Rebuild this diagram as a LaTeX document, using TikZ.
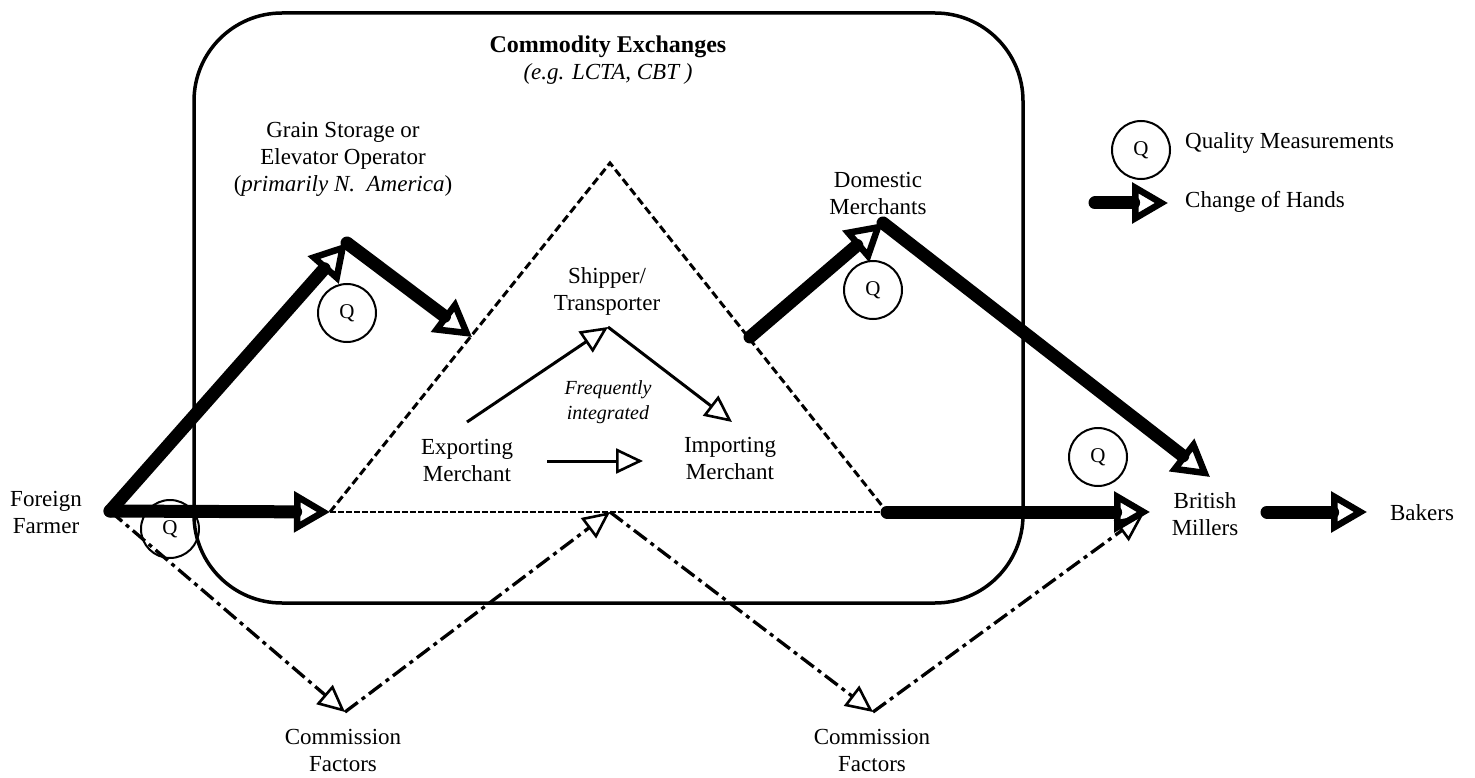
\documentclass[tikz,border=0pt]{standalone}
\usepackage{fontspec}
\setmainfont{Liberation Serif}
\usetikzlibrary{arrows.meta}
\tikzset{
  txt/.style={font=\fontsize{23}{27}\selectfont, align=center, inner sep=0pt},
  qual/.style={circle, draw, line width=2pt, minimum size=58pt, inner sep=0pt, font=\fontsize{21}{24}\selectfont},
  hand/.style={line width=13pt, line cap=round, line join=round, -{Triangle[open,length=36pt,width=40pt,line width=6.5pt]}},
  smallarr/.style={line width=3pt, -{Triangle[open,length=27pt,width=25pt,line width=2.6pt]}},
  commarr/.style={line width=3.3pt, dash pattern=on 16pt off 5pt on 4pt off 5pt, -{Triangle[open,length=27pt,width=25pt,line width=2.6pt]}},
  tri/.style={line width=3pt, dash pattern=on 8pt off 4pt},
  base/.style={line width=2.6pt, dash pattern=on 6pt off 2pt},
  exch/.style={line width=3.5pt, rounded corners=88pt},
}
\begin{document}
\begin{tikzpicture}[x=1pt,y=-1pt]
\useasboundingbox (0,0) rectangle (1475,778);
% exchange box
\draw[exch] (194,13) rectangle (1023,603);
\node[txt, font=\fontsize{24}{28}\selectfont\bfseries] (title) at (608,47) {Commodity Exchanges};
\node[txt, font=\fontsize{23}{27}\selectfont\itshape] (sub) at (608,74) {(e.g. LCTA, CBT )};

% key coordinates
\coordinate (farm) at (110,511);
\coordinate (gapex) at (347,243);
\coordinate (tl) at (330,512);
\coordinate (gtip) at (472,337);
\coordinate (apex) at (610,163);
\coordinate (tr) at (887,512);
\coordinate (dstart) at (750,337);
\coordinate (dapex) at (883,223);
\coordinate (mtip) at (1150,512);
\coordinate (mtip2) at (1210,477);
\coordinate (bm) at (610,512);
\coordinate (c1) at (345,712);
\coordinate (c2) at (873,712);
\coordinate (cm) at (1143,515);
\coordinate (bstart) at (1267,512);
\coordinate (btip) at (1367,512);
\coordinate (lstart) at (1095,203);
\coordinate (ltip) at (1168,203);
\coordinate (es) at (467,422);
\coordinate (sh) at (608,327);
\coordinate (im) at (732,422);
\coordinate (ei1) at (547,461);
\coordinate (ei2) at (643,461);

% triangle (shipping)
\draw[tri] (tl) -- (apex) -- (tr);
\draw[base] (tl) -- (tr);

% text nodes
\node[txt] (farmer) at (46,512) {Foreign\\Farmer};
\node[txt] (grain) at (343,159) {Grain Storage or\\Elevator Operator\\(\textit{primarily N.\ \ America})};
\node[txt] (domestic) at (878,193) {Domestic\\Merchants};
\node[txt] (shipper) at (607,291) {Shipper/\\Transporter};
\node[txt, font=\fontsize{20}{25}\selectfont\itshape] (freq) at (608,402) {Frequently\\integrated};
\node[txt] (exporting) at (467,460) {Exporting\\Merchant};
\node[txt] (importing) at (730,458) {Importing\\Merchant};
\node[txt] (british) at (1205,514) {British\\Millers};
\node[txt] (bakers) at (1422,513) {Bakers};
\node[txt] (comm1) at (343,750) {Commission\\Factors};
\node[txt] (comm2) at (872,750) {Commission\\Factors};

% quality circles
\node[qual] (q1) at (170,529) {Q};
\node[qual] (q2) at (347,313) {Q};
\node[qual] (q3) at (873,290) {Q};
\node[qual] (q4) at (1098,457) {Q};
\node[qual] (q5) at (1141,150) {Q};

% legend
\node[txt, anchor=west] (lq) at (1185,143) {Quality Measurements};
\node[txt, anchor=west] (lh) at (1185,202) {Change of Hands};
\draw[hand] (lstart) -- (ltip);

% commission factor paths
\draw[commarr] (farm) -- (c1);
\draw[commarr] (c1) -- (bm);
\draw[commarr] (bm) -- (c2);
\draw[commarr] (c2) -- (cm);

% change of hands
\draw[hand] (farm) -- (gapex);
\draw[hand] (gapex) -- (gtip);
\draw[hand] (farm) -- (tl);
\draw[hand] (dstart) -- (dapex);
\draw[hand] (dapex) -- (mtip2);
\draw[hand] (tr) -- (mtip);
\draw[hand] (bstart) -- (btip);

% inside triangle
\draw[smallarr] (es) -- (sh);
\draw[smallarr] (sh) -- (im);
\draw[smallarr] (ei1) -- (ei2);
\end{tikzpicture}
\end{document}
